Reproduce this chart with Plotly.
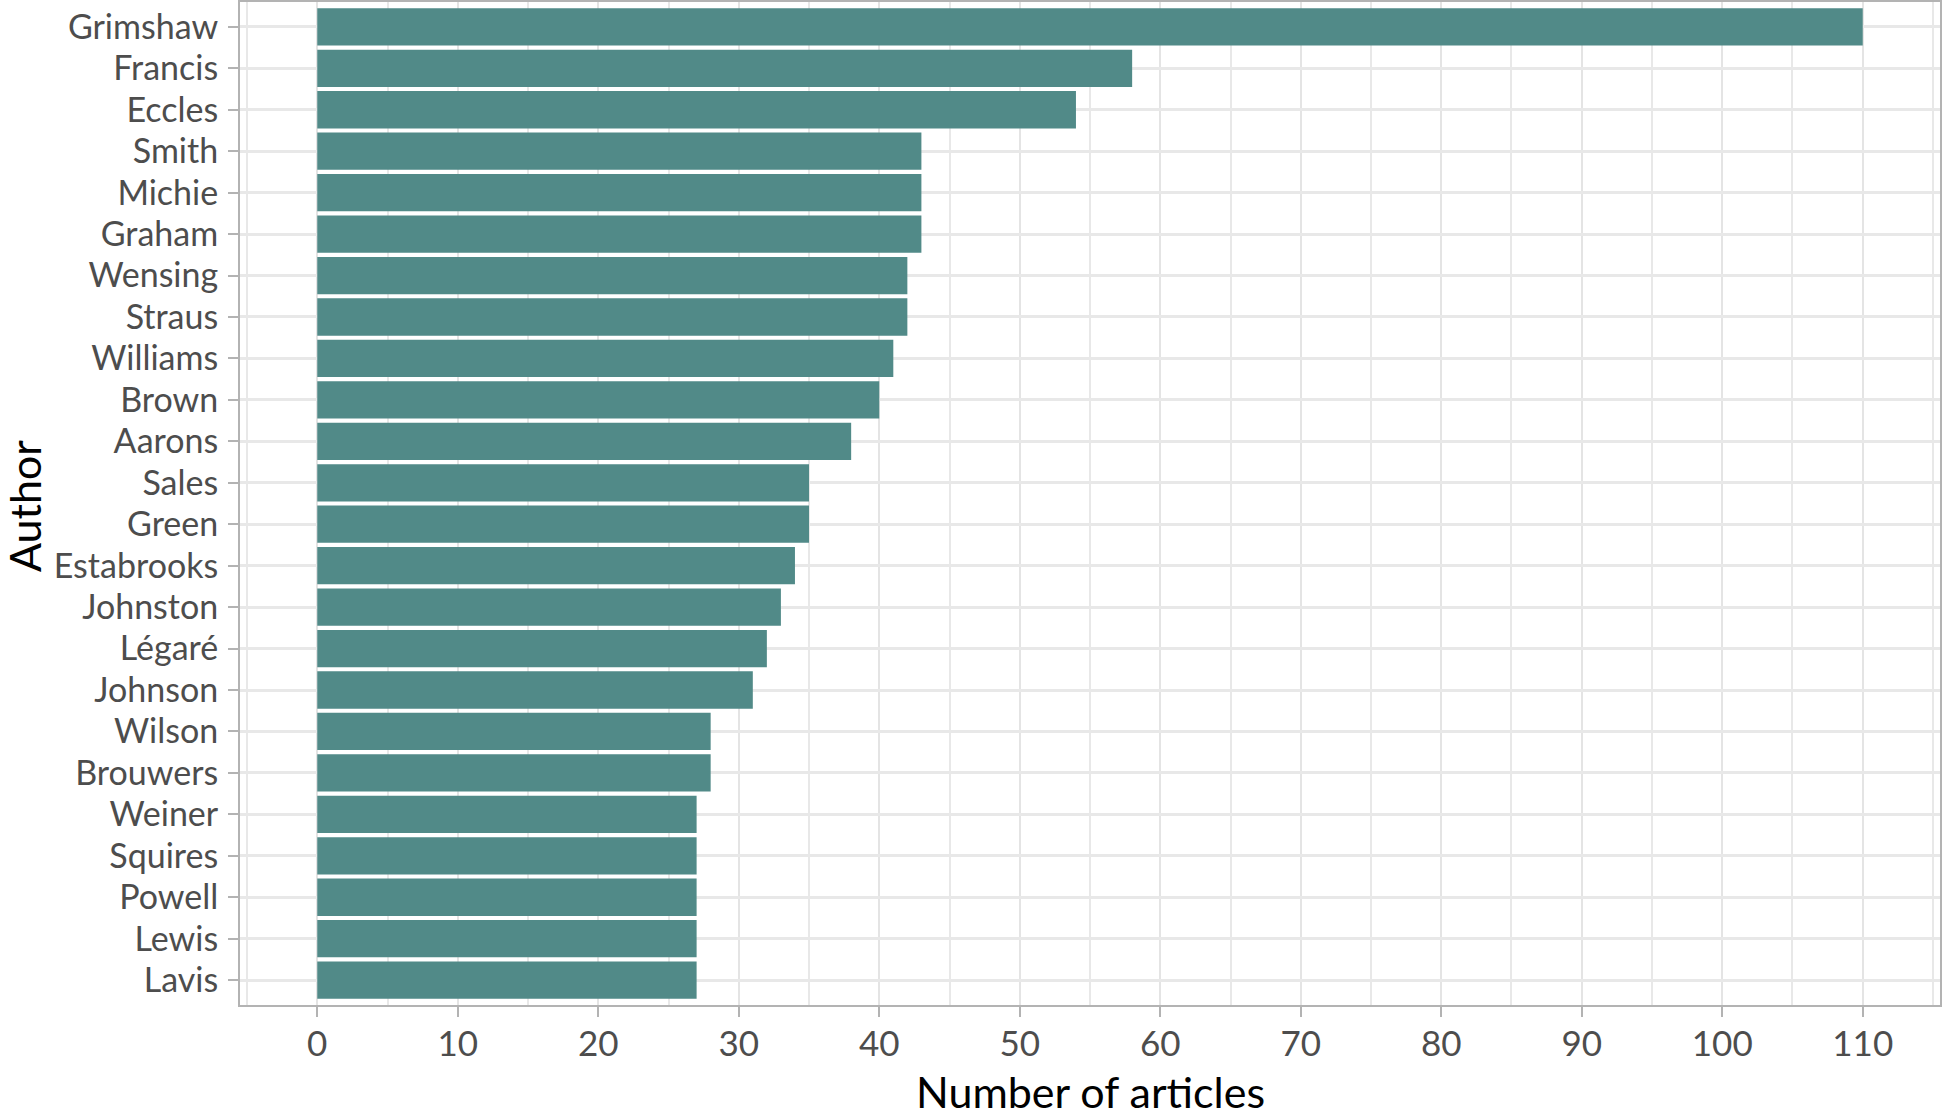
import plotly.graph_objects as go

authors = ["Grimshaw", "Francis", "Eccles", "Smith", "Michie", "Graham", "Wensing",
           "Straus", "Williams", "Brown", "Aarons", "Sales", "Green", "Estabrooks",
           "Johnston", "Légaré", "Johnson", "Wilson", "Brouwers", "Weiner",
           "Squires", "Powell", "Lewis", "Lavis"]
articles = [110, 58, 54, 43, 43, 43, 42, 42, 41, 40, 38, 35, 35, 34, 33, 32, 31,
            28, 28, 27, 27, 27, 27, 27]
x_ticks = list(range(0, 111, 10))

FONT = "Lato"
L, R, T, B = 240, 6, 2, 104
W, H = 1946, 1109
PW, PH = W - L - R, H - T - B

fig = go.Figure(go.Bar(
    x=articles, y=authors, orientation="h",
    marker=dict(color="#518A88", line=dict(width=0)),
    width=0.9,
))

fig.update_layout(
    width=W, height=H,
    margin=dict(l=L, r=R, t=T, b=B, autoexpand=False),
    plot_bgcolor="white", paper_bgcolor="white",
    font=dict(family=FONT, color="#4d4d4d", size=34),
    showlegend=False,
    bargap=0.1,
    annotations=[
        dict(text="Number of articles", xref="paper", yref="paper",
             x=(1090 - L) / PW, y=-(1091 - (T + PH)) / PH,
             xanchor="center", yanchor="middle", showarrow=False,
             font=dict(family=FONT, size=43, color="#000000")),
        dict(text="Author", xref="paper", yref="paper",
             x=(24 - L) / PW, y=((T + PH) - 506) / PH,
             xanchor="center", yanchor="middle", showarrow=False, textangle=-90,
             font=dict(family=FONT, size=43, color="#000000")),
    ],
)
fig.update_xaxes(
    range=[-5.5, 115.5],
    tickvals=x_ticks,
    ticks="outside", ticklen=10, tickwidth=2, tickcolor="#b3b3b3",
    showgrid=True, gridcolor="#e4e4e4", gridwidth=2,
    minor=dict(dtick=5, tick0=0, showgrid=True, gridcolor="#e8e8e8", gridwidth=1.5),
    showline=True, linecolor="#b3b3b3", linewidth=2, mirror=True,
    zeroline=False, automargin=False,
    ticklabelstandoff=-3,
    tickfont=dict(family=FONT, size=35, color="#4d4d4d"),
)
fig.update_yaxes(
    categoryorder="array", categoryarray=authors,
    range=[len(authors) - 1 + 0.6, -0.6],
    tickmode="linear", tick0=0, dtick=1,
    ticks="outside", ticklen=10, tickwidth=2, tickcolor="#b3b3b3",
    showgrid=True, gridcolor="#e8e8e8", gridwidth=2.5,
    showline=True, linecolor="#b3b3b3", linewidth=2, mirror=True,
    zeroline=False, automargin=False,
    ticklabelstandoff=3,
    tickfont=dict(family=FONT, size=34, color="#4d4d4d"),
)

fig.write_html("out.html",
               config={"displayModeBar": False},
               post_script="document.body.style.margin='0';document.body.style.overflow='hidden';")
